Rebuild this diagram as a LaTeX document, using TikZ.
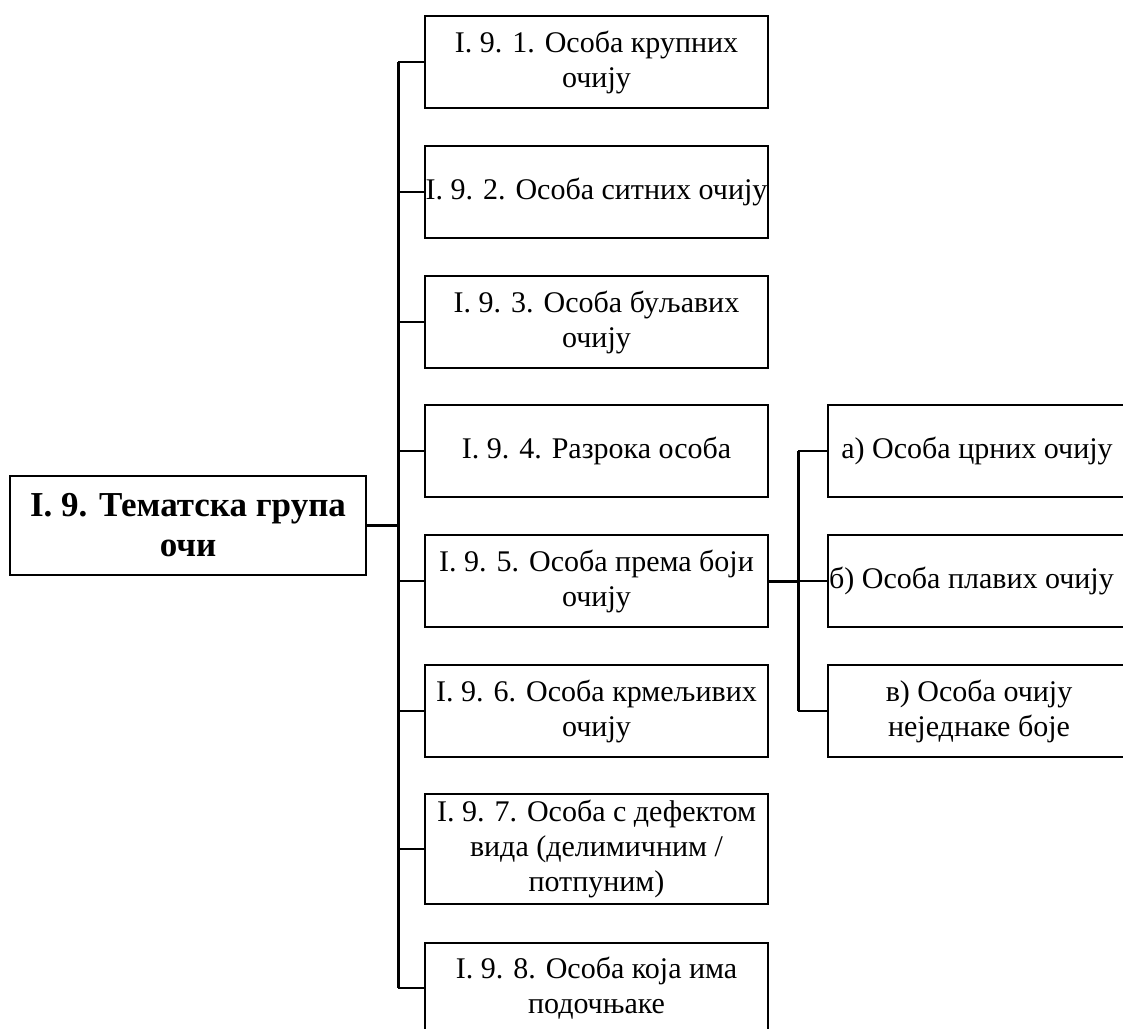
\documentclass[tikz,border=0pt]{standalone}
\usepackage{fontspec}
\setmainfont{Liberation Serif}
\begin{document}
\begin{tikzpicture}[x=1pt,y=-1pt,
  box/.style={draw,line width=2pt,align=center,inner xsep=0pt,inner ysep=0pt,
    font=\fontsize{30}{35}\selectfont},
  mainbox/.style={box,minimum width=343pt,minimum height=92pt},
  subbox/.style={box,minimum width=312pt,minimum height=92pt},
  link/.style={line width=2pt},
  trunk/.style={line width=3pt}]
\useasboundingbox (0,0) rectangle (1123,1028);
\clip (0,0) rectangle (1123,1028);
\node[box,minimum width=356pt,minimum height=99pt,
  font=\bfseries\fontsize{35}{40}\selectfont] (root) at (188,525) {I. 9. Тематска група\\очи};
\node[mainbox] (b1) at (596.5,62) {I. 9. 1. Особа крупних\\очију};
\node[mainbox] (b2) at (596.5,192) {I. 9. 2. Особа ситних очију};
\node[mainbox] (b3) at (596.5,322) {I. 9. 3. Особа буљавих\\очију};
\node[mainbox] (b4) at (596.5,451) {I. 9. 4. Разрока особа};
\node[mainbox] (b5) at (596.5,581) {I. 9. 5. Особа према боји\\очију};
\node[mainbox] (b6) at (596.5,711) {I. 9. 6. Особа крмељивих\\очију};
\node[mainbox,minimum height=110pt] (b7) at (596.5,849) {I. 9. 7. Особа с дефектом\\вида (делимичним /\\потпуним)};
\node[mainbox,minimum height=90pt] (b8) at (596.5,988) {I. 9. 8. Особа која има\\подочњаке};
\node[subbox] (ra) at (984,451) {а) Особа црних очију\hspace*{14pt}};
\node[subbox] (rb) at (984,581) {б) Особа плавих очију\hspace*{25pt}};
\node[subbox] (rc) at (984,711) {в) Особа очију\hspace*{10pt}\\неједнаке боје\hspace*{10pt}};
\coordinate (tx) at (398,0);
\coordinate (sx) at (798,0);
\draw[trunk] (b1.west -| tx) -- (b8.west -| tx);
\draw[trunk] (root.east) -- (root.east -| tx);
\foreach \b in {b1,b2,b3,b4,b5,b6,b7,b8}
  \draw[link] (\b.west) -- (\b.west -| tx);
\draw[trunk] (ra.west -| sx) -- (rc.west -| sx);
\draw[trunk] (b5.east) -- (b5.east -| sx);
\foreach \b in {ra,rb,rc}
  \draw[link] (\b.west) -- (\b.west -| sx);
\end{tikzpicture}
\end{document}
